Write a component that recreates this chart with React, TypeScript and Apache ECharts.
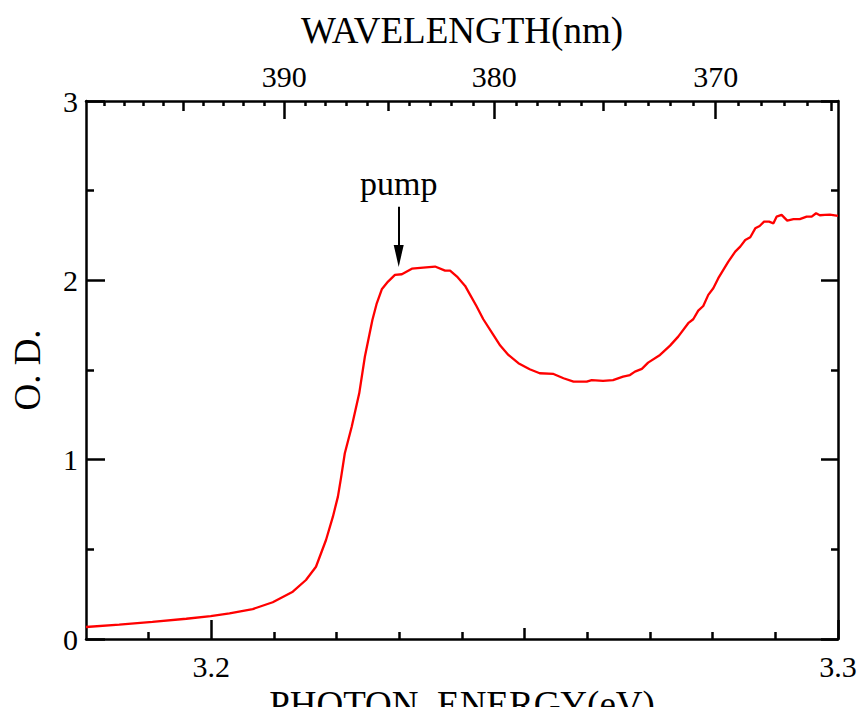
import React, { useEffect, useRef } from "react";
import * as echarts from "echarts";

// Photon energy (eV) and optical density
const energy = [3.1800, 3.1853, 3.1906, 3.1960, 3.1999, 3.2029, 3.2066, 3.2098, 3.2130, 3.2151, 3.2167, 3.2183, 3.2194, 3.2202, 3.2207, 3.2213, 3.2224, 3.2236, 3.2245, 3.2257, 3.2264, 3.2272, 3.2282, 3.2293, 3.2304, 3.2320, 3.2338, 3.2357, 3.2373, 3.2381, 3.2392, 3.2405, 3.2413, 3.2423, 3.2434, 3.2450, 3.2461, 3.2474, 3.2490, 3.2508, 3.2524, 3.2546, 3.2562, 3.2578, 3.2599, 3.2607, 3.2625, 3.2641, 3.2657, 3.2668, 3.2676, 3.2687, 3.2697, 3.2716, 3.2732, 3.2745, 3.2761, 3.2769, 3.2777, 3.2785, 3.2793, 3.2801, 3.2809, 3.2817, 3.2825, 3.2836, 3.2844, 3.2852, 3.2860, 3.2868, 3.2875, 3.2882, 3.2890, 3.2897, 3.2902, 3.2910, 3.2919, 3.2929, 3.2939, 3.2950, 3.2958, 3.2965, 3.2971, 3.2979, 3.2987, 3.3000];
const od = [0.067, 0.080, 0.095, 0.113, 0.128, 0.143, 0.167, 0.205, 0.264, 0.329, 0.403, 0.552, 0.682, 0.794, 0.900, 1.036, 1.184, 1.370, 1.574, 1.779, 1.872, 1.950, 1.993, 2.030, 2.034, 2.065, 2.071, 2.077, 2.054, 2.054, 2.021, 1.969, 1.919, 1.857, 1.783, 1.696, 1.636, 1.584, 1.538, 1.504, 1.482, 1.478, 1.454, 1.435, 1.435, 1.444, 1.439, 1.444, 1.463, 1.472, 1.491, 1.506, 1.541, 1.584, 1.636, 1.686, 1.761, 1.783, 1.831, 1.857, 1.919, 1.956, 2.012, 2.058, 2.104, 2.160, 2.188, 2.225, 2.240, 2.290, 2.303, 2.327, 2.327, 2.318, 2.355, 2.365, 2.333, 2.341, 2.341, 2.355, 2.355, 2.374, 2.363, 2.365, 2.366, 2.360];

// Bottom axis (eV)
const energyMin = 3.18;
const energyMax = 3.3;
const energyLabels = [3.2, 3.3];
const energyMajorTicks = [3.2, 3.3];
const energyMidTicks = [3.25];
const energyMinorTicks = [3.19, 3.21, 3.22, 3.23, 3.24, 3.26, 3.27, 3.28, 3.29];

// Top axis (wavelength, nm) - drawn on a 1e5/λ scale
const waveAxisMin = 250.04;
const waveAxisMax = 274.2;
const waveLabels = [390, 380, 370];
const waveMajorTicks = [390, 380, 370];
const waveMidTicks = [395, 385, 375, 365];
const waveMinorTicks = [399, 398, 397, 396, 394, 393, 392, 391, 389, 388, 387, 386, 384, 383, 382, 381, 379, 378, 377, 376, 374, 373, 372, 371, 369, 368, 367, 366];

// Pump annotation
const pumpEnergy = 3.2299;
const pumpArrowTop = 2.41;
const pumpArrowTip = 2.075;

const toInv = (l: number) => 1e5 / l;
const FONT = "'Liberation Serif', 'Times New Roman', serif";
const BLACK = "#000";

export default function App() {
  const ref = useRef<HTMLDivElement>(null);
  useEffect(() => {
    document.body.style.margin = "0";
    if (!ref.current) return;
    const chart = echarts.init(ref.current, undefined, { renderer: "svg" });

    const hidden = { show: false };
    const baseX = (extra: any) => ({
      type: "value",
      min: energyMin,
      max: energyMax,
      splitLine: hidden,
      axisLine: { show: false },
      axisLabel: { show: false },
      ...extra,
    });
    const baseTop = (extra: any) => ({
      type: "value",
      position: "top",
      offset: 0,
      min: waveAxisMin,
      max: waveAxisMax,
      splitLine: hidden,
      axisLine: { show: false },
      axisLabel: { show: false },
      ...extra,
    });
    const tick = (vals: number[], len: number) => ({
      show: true,
      inside: true,
      length: len,
      customValues: vals,
      lineStyle: { color: BLACK, width: 2.5 },
    });

    chart.setOption({
      animation: false,
      backgroundColor: "#fff",
      grid: { left: 86, top: 101, width: 752, height: 538, containLabel: false, outerBoundsMode: "none" },
      xAxis: [
        baseX({
          position: "bottom",
          offset: 0,
          axisLine: { show: true, lineStyle: { color: BLACK, width: 2.5 } },
          axisTick: tick(energyMinorTicks, 7),
          axisLabel: {
            show: true,
            customValues: energyLabels,
            formatter: (v: number) => v.toFixed(1),
            color: BLACK,
            fontFamily: FONT,
            fontSize: 30,
            margin: 12,
          },
          name: "PHOTON  ENERGY(eV)",
          nameLocation: "middle",
          nameGap: 35,
          nameTextStyle: { color: BLACK, fontFamily: FONT, fontSize: 37 },
        }),
        baseX({ position: "bottom", offset: 0, axisTick: tick(energyMidTicks, 11) }),
        baseX({ position: "bottom", offset: 0, axisTick: tick(energyMajorTicks, 19) }),
        baseTop({
          axisLine: { show: true, lineStyle: { color: BLACK, width: 2.5 } },
          axisTick: tick(waveMinorTicks.map(toInv), 5),
          axisLabel: {
            show: true,
            customValues: waveLabels.map(toInv),
            formatter: (v: number) => String(Math.round(1e5 / v)),
            color: BLACK,
            fontFamily: FONT,
            fontSize: 30,
            margin: 10,
          },
          name: "WAVELENGTH(nm)",
          nameLocation: "middle",
          nameGap: 52,
          nameTextStyle: { color: BLACK, fontFamily: FONT, fontSize: 37 },
        }),
        baseTop({ axisTick: tick(waveMidTicks.map(toInv), 10) }),
        baseTop({ axisTick: tick(waveMajorTicks.map(toInv), 18) }),
      ],
      yAxis: [
        {
          type: "value",
          position: "left",
          min: 0,
          max: 3,
          interval: 1,
          splitLine: hidden,
          axisLine: { show: true, lineStyle: { color: BLACK, width: 2.5 } },
          axisTick: { show: true, inside: true, length: 19, lineStyle: { color: BLACK, width: 2.5 } },
          minorTick: { show: true, splitNumber: 2, length: 8, lineStyle: { color: BLACK, width: 2.5 } },
          axisLabel: { color: BLACK, fontFamily: FONT, fontSize: 30, margin: 8 },
          name: "O. D.",
          nameLocation: "middle",
          nameGap: 40,
          nameRotate: 90,
          nameTextStyle: { color: BLACK, fontFamily: FONT, fontSize: 37 },
        },
        {
          type: "value",
          position: "right",
          min: 0,
          max: 3,
          interval: 1,
          splitLine: hidden,
          axisLine: { show: true, lineStyle: { color: BLACK, width: 2.5 } },
          axisTick: { show: true, inside: true, length: 17, lineStyle: { color: BLACK, width: 2.5 } },
          minorTick: { show: true, splitNumber: 2, length: 7, lineStyle: { color: BLACK, width: 2.5 } },
          axisLabel: { show: false },
        },
      ],
      series: [
        {
          type: "line",
          xAxisIndex: 0,
          yAxisIndex: 0,
          data: energy.map((e, i) => [e, od[i]]),
          showSymbol: false,
          symbol: "none",
          lineStyle: { color: "#ff0000", width: 2.3 },
          markLine: {
            silent: true,
            symbol: ["none", "none"],
            lineStyle: { color: BLACK, width: 2, type: "solid" },
            label: {
              show: true,
              position: "start",
              formatter: "pump",
              color: BLACK,
              fontFamily: FONT,
              fontSize: 34,
              distance: 6,
            },
            data: [[{ coord: [pumpEnergy, pumpArrowTop] }, { coord: [pumpEnergy, pumpArrowTip + 0.05] }]],
          },
          markPoint: {
            silent: true,
            symbol: "triangle",
            symbolSize: [10, 22],
            symbolRotate: 180,
            symbolOffset: [0, "-50%"],
            itemStyle: { color: BLACK },
            label: { show: false },
            data: [{ coord: [pumpEnergy, pumpArrowTip] }],
          },
        },
      ],
    });
    return () => chart.dispose();
  }, []);
  return <div ref={ref} style={{ width: 859, height: 707 }} />;
}
